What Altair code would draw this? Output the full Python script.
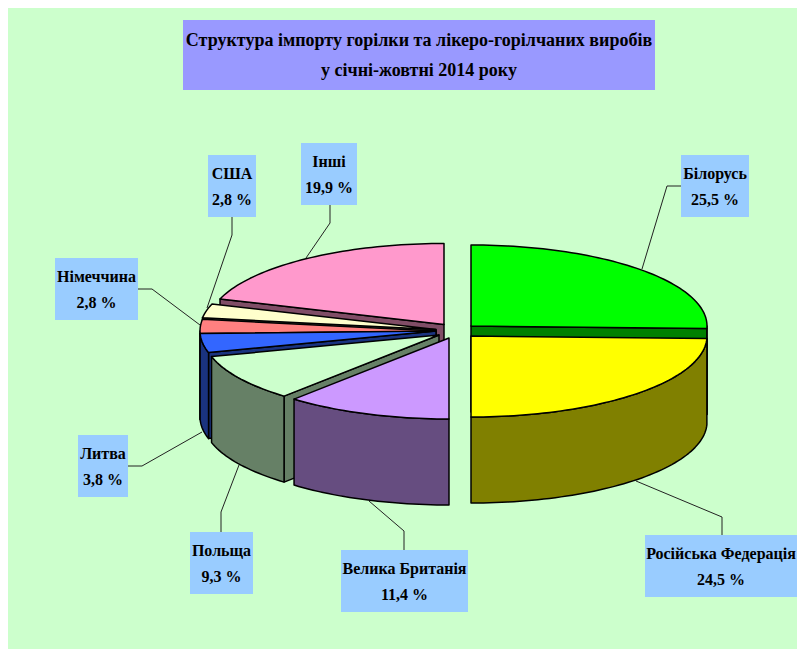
import math
import altair as alt

# ---- data ----
names = ["Білорусь", "Російська Федерація", "Велика Британія", "Польща",
         "Литва", "Німеччина", "США", "Інші"]
shares = [25.5, 24.5, 11.4, 9.3, 3.8, 2.8, 2.8, 19.9]
title_lines = ["Структура імпорту горілки та лікеро-горілчаних виробів",
               "у січні-жовтні 2014 року"]

# ---- styles ----
top_colors = ["#00FF00", "#FFFF00", "#CC99FF", "#CCFFCC", "#3366FF", "#FF8080", "#FFFFCC", "#FF99CC"]
side_colors = ["#008000", "#808000", "#664D80", "#668066", "#1A3380", "#804040", "#808066", "#804D66"]
BG = "#CCFFCC"
BOX = "#99CCFF"
TITLE_BOX = "#9999FF"
FONT = "Liberation Serif"

# ---- layout, in page pixels (the svg starts at the page's 8px margin) ----
LEFT, TOP = 8, 8
W, H = 789, 641   # largest canvas that fits the window without the page overflowing
RX, RY, DEPTH = 236, 81, 86
centres = [(471, 326), (471, 336), (449, 338), (439, 335),
           (436, 331), (436, 331), (436, 329.5), (444, 324.5)]
paint_order = [7, 6, 5, 4, 3, 2, 0, 1]
boxes = [(681, 749, 155, 217), (645, 797, 535, 597), (341, 468, 550, 612), (190, 253, 532, 594),
         (78, 128, 435, 497), (55, 138, 258, 320), (208, 256, 155, 217), (301, 357, 143, 205)]
leaders = [[(681, 186), (667, 186), (642, 269)],
           [(722, 535), (722, 517), (636, 481)],
           [(404, 550), (404, 531), (369, 501)],
           [(221, 532), (221, 512), (239, 465)],
           [(128, 466), (142, 466), (202, 432)],
           [(138, 289), (152, 289), (200, 325)],
           [(232, 217), (232, 235), (207, 308)],
           [(330, 205), (330, 223), (306, 258)]]
title_box = (183, 655, 20, 90)

# ---- geometry derived from the shares ----
total = sum(shares)
bounds = [0.0]
for s in shares:
    bounds.append(bounds[-1] + s / total * 360.0)


def rim(c, a, dz=0.0):
    r = math.radians(a)
    return [c[0] + RX * math.sin(r), c[1] - RY * math.cos(r) + dz]


def arc(c, a0, a1, dz=0.0):
    n = max(2, int(abs(a1 - a0) / 1.5) + 1)
    return [rim(c, a0 + (a1 - a0) * i / n, dz) for i in range(n + 1)]


def poly(pts, fill):
    ring = [list(p) for p in pts]
    ring.append(list(pts[0]))
    return {"type": "Feature", "properties": {"fill": fill},
            "geometry": {"type": "Polygon", "coordinates": [ring]}}


features = []
for i in paint_order:
    c, a0, a1 = centres[i], bounds[i], bounds[i + 1]
    if math.sin(math.radians(a0)) < -1e-6:      # leading cut face
        features.append(poly([list(c), rim(c, a0), rim(c, a0, DEPTH), [c[0], c[1] + DEPTH]], side_colors[i]))
    if 1e-6 < math.sin(math.radians(a1)) and a1 < 180:  # trailing cut face
        features.append(poly([list(c), rim(c, a1), rim(c, a1, DEPTH), [c[0], c[1] + DEPTH]], side_colors[i]))
    lo, hi = max(a0, 90.0), min(a1, 270.0)
    if hi > lo:                                  # outer wall, front half only
        features.append(poly(arc(c, lo, hi) + arc(c, hi, lo, DEPTH), side_colors[i]))
    features.append(poly([list(c)] + arc(c, a0, a1), top_colors[i]))

leader_rows = [{"id": i, "k": k, "x": p[0], "y": p[1]}
               for i, line in enumerate(leaders) for k, p in enumerate(line)]
box_rows = [{"x": b[0], "x2": b[1], "y": b[2], "y2": b[3], "fill": BOX} for b in boxes]
box_rows.append({"x": title_box[0], "x2": title_box[1], "y": title_box[2], "y2": title_box[3], "fill": TITLE_BOX})

text_rows = []
for name, s, b in zip(names, shares, boxes):
    cx = (b[0] + b[1]) / 2
    text_rows.append({"x": cx, "y": b[2] + 18.5, "t": name})
    text_rows.append({"x": cx, "y": b[2] + 44.5, "t": f"{s:.1f}".replace(".", ",") + " %"})
title_rows = [{"x": (title_box[0] + title_box[1]) / 2, "y": title_box[2] + 21 + 30 * k, "t": t}
              for k, t in enumerate(title_lines)]

xs = alt.Scale(domain=[LEFT, LEFT + W], nice=False, zero=False)
ys = alt.Scale(domain=[TOP + H, TOP], nice=False, zero=False)
X = alt.X("x:Q", scale=xs, axis=None)
Y = alt.Y("y:Q", scale=ys, axis=None)

leader_layer = alt.Chart(alt.Data(values=leader_rows)).mark_line(color="#222222", strokeWidth=1).encode(
    x=X, y=Y, detail="id:N", order="k:Q")

pie_layer = alt.Chart(alt.Data(values=features)).mark_geoshape(
    stroke="#000000", strokeWidth=1.5, strokeJoin="round"
).encode(fill=alt.Fill("properties.fill:N", scale=None)).project(
    type="identity", scale=1, translate=[-LEFT, -TOP])

box_layer = alt.Chart(alt.Data(values=box_rows)).mark_rect().encode(
    x=X, x2="x2:Q", y=Y, y2="y2:Q", fill=alt.Fill("fill:N", scale=None))

label_layer = alt.Chart(alt.Data(values=text_rows)).mark_text(
    font=FONT, fontSize=16, fontWeight="bold", color="#000000", align="center", baseline="middle"
).encode(x=X, y=Y, text="t:N")

title_layer = alt.Chart(alt.Data(values=title_rows)).mark_text(
    font=FONT, fontSize=18, fontWeight="bold", color="#000000", align="center", baseline="middle"
).encode(x=X, y=Y, text="t:N")

chart = alt.layer(leader_layer, pie_layer, box_layer, label_layer, title_layer).properties(
    width=W, height=H, background=BG, padding=0,
    autosize=alt.AutoSizeParams(type="none")
).configure_view(stroke=None)

chart.save("out.html", embed_options={"renderer": "svg", "actions": False})
